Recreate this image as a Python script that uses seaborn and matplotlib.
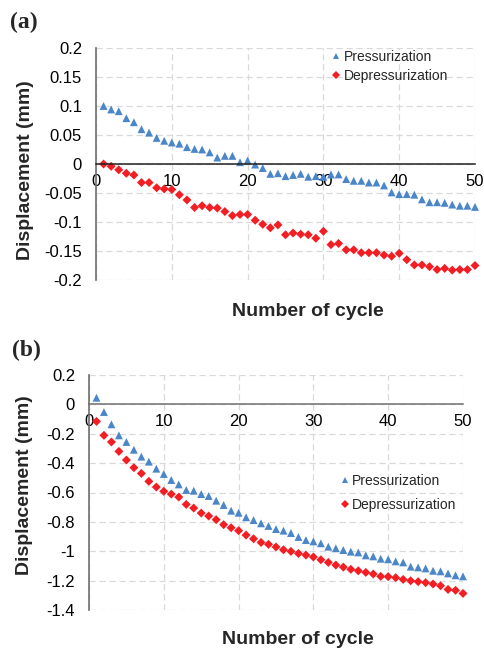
import numpy as np
import pandas as pd
import matplotlib
matplotlib.use("Agg")
import matplotlib.pyplot as plt
import seaborn as sns
from matplotlib.ticker import FixedLocator, FuncFormatter

cycles = list(range(1, 51))

press_a = [0.100, 0.094, 0.091, 0.079, 0.072, 0.060, 0.054, 0.045, 0.040, 0.037,
           0.035, 0.029, 0.026, 0.025, 0.020, 0.011, 0.014, 0.014, 0.003, 0.006,
           -0.001, -0.007, -0.017, -0.016, -0.021, -0.019, -0.017, -0.022, -0.021, -0.022,
           -0.018, -0.018, -0.026, -0.029, -0.029, -0.032, -0.032, -0.037, -0.049, -0.052,
           -0.052, -0.053, -0.061, -0.066, -0.066, -0.067, -0.070, -0.072, -0.072, -0.074]
depress_a = [0.000, -0.004, -0.010, -0.016, -0.019, -0.032, -0.032, -0.041, -0.043, -0.044,
             -0.053, -0.062, -0.075, -0.072, -0.075, -0.076, -0.082, -0.089, -0.087, -0.087,
             -0.097, -0.104, -0.110, -0.105, -0.122, -0.119, -0.121, -0.122, -0.128, -0.116,
             -0.139, -0.137, -0.148, -0.148, -0.153, -0.153, -0.153, -0.157, -0.159, -0.154,
             -0.165, -0.174, -0.174, -0.177, -0.182, -0.180, -0.183, -0.182, -0.182, -0.175]

press_b = [0.045, -0.052, -0.136, -0.211, -0.256, -0.309, -0.356, -0.390, -0.438, -0.474,
           -0.515, -0.545, -0.583, -0.588, -0.611, -0.624, -0.656, -0.685, -0.724, -0.738,
           -0.769, -0.788, -0.810, -0.828, -0.849, -0.860, -0.876, -0.903, -0.924, -0.933,
           -0.946, -0.969, -0.980, -0.992, -1.003, -1.008, -1.028, -1.035, -1.051, -1.055,
           -1.069, -1.076, -1.105, -1.110, -1.117, -1.133, -1.137, -1.151, -1.164, -1.171]
depress_b = [-0.116, -0.211, -0.256, -0.320, -0.379, -0.431, -0.470, -0.524, -0.563, -0.592,
             -0.611, -0.631, -0.681, -0.706, -0.740, -0.760, -0.785, -0.819, -0.840, -0.860,
             -0.890, -0.915, -0.940, -0.953, -0.971, -0.990, -1.001, -1.015, -1.026, -1.039,
             -1.058, -1.076, -1.094, -1.108, -1.123, -1.133, -1.144, -1.155, -1.171, -1.173,
             -1.180, -1.192, -1.201, -1.207, -1.214, -1.223, -1.235, -1.260, -1.266, -1.287]

series_names = ["Pressurization", "Depressurization"]
x_ticks = [0, 10, 20, 30, 40, 50]
y_ticks_a = [0.2, 0.15, 0.1, 0.05, 0, -0.05, -0.1, -0.15, -0.2]
y_ticks_b = [0.2, 0, -0.2, -0.4, -0.6, -0.8, -1, -1.2, -1.4]

sns.set_style("white")
plt.rcParams['font.family'] = ['Liberation Sans', 'DejaVu Sans']
plt.rcParams['axes.unicode_minus'] = False

W, H = 484, 648
fig = plt.figure(figsize=(W / 100, H / 100), dpi=100)

BLUE = "#4A86C8"
RED = "#F21E24"
palette = {series_names[0]: BLUE, series_names[1]: RED}
markers = {series_names[0]: "^", series_names[1]: "D"}
sizes = {series_names[0]: 32, series_names[1]: 21}


def make_df(p, d):
    return pd.DataFrame({
        "cycle": cycles * 2,
        "disp": list(p) + list(d),
        "series": [series_names[0]] * len(p) + [series_names[1]] * len(d),
    })


def px_axes(left, top, right, bottom):
    return fig.add_axes([left / W, 1 - bottom / H, (right - left) / W, (bottom - top) / H])


def style_axes(ax, yticks, ylim, zero_color):
    ax.set_xlim(0, 50)
    ax.set_ylim(*ylim)
    ax.xaxis.set_major_locator(FixedLocator(x_ticks))
    ax.yaxis.set_major_locator(FixedLocator(yticks))
    ax.yaxis.set_major_formatter(FuncFormatter(lambda v, p: f"{v:g}" if abs(v) > 1e-9 else "0"))
    ax.xaxis.set_major_formatter(FuncFormatter(lambda v, p: f"{v:g}"))
    ax.grid(True, color="#D9D9D9", linestyle=(0, (5, 3)), linewidth=0.9)
    ax.set_axisbelow(True)
    for s in ["top", "right"]:
        ax.spines[s].set_visible(False)
    ax.spines["left"].set_color("#6E6E6E")
    ax.spines["left"].set_linewidth(1.2)
    ax.spines["bottom"].set_position(("data", 0))
    ax.spines["bottom"].set_color(zero_color)
    ax.spines["bottom"].set_linewidth(1.1)
    ax.tick_params(axis="both", length=0, labelsize=12, colors="black")
    ax.tick_params(axis="x", pad=7)
    ax.tick_params(axis="y", pad=10)
    ax.set_xlabel("")
    ax.set_ylabel("")


def draw_panel(ax, df, legend_anchor, legend_spacing):
    sns.scatterplot(data=df, x="cycle", y="disp", hue="series", style="series",
                    size="series", sizes=sizes,
                    palette=palette, markers=markers, linewidth=0,
                    ax=ax, legend=True, clip_on=False)
    handles, labels = ax.get_legend_handles_labels()
    ax.legend(handles=handles, labels=labels, loc="upper left", bbox_to_anchor=legend_anchor,
              frameon=False, fontsize=10, handletextpad=0.05, borderaxespad=0, borderpad=0,
              labelspacing=legend_spacing, markerscale=0.85, handlelength=1.0)


# Panel (a)
ax_a = px_axes(96, 48, 475, 280)
draw_panel(ax_a, make_df(press_a, depress_a), (0.615, 0.99), 0.35)
style_axes(ax_a, y_ticks_a, (-0.2, 0.2), "#202020")

# Panel (b)
ax_b = px_axes(89, 375, 463, 610)
draw_panel(ax_b, make_df(press_b, depress_b), (0.665, 0.58), 0.75)
style_axes(ax_b, y_ticks_b, (-1.4, 0.2), "#707070")

# Texts
fig.text(10 / W, 1 - 22 / H, "(a)", family=["Liberation Serif"], fontweight="bold",
         fontsize=17, va="center", ha="left")
fig.text(12 / W, 1 - 350 / H, "(b)", family=["Liberation Serif"], fontweight="bold",
         fontsize=17, va="center", ha="left")
fig.text(26 / W, 1 - 170 / H, "Displacement (mm)", rotation=90, fontweight="bold",
         fontsize=14, va="center", ha="center")
fig.text(25 / W, 1 - 485 / H, "Displacement (mm)", rotation=90, fontweight="bold",
         fontsize=14, va="center", ha="center")
fig.text(308 / W, 1 - 311 / H, "Number of cycle", fontweight="bold",
         fontsize=14, va="center", ha="center")
fig.text(298 / W, 1 - 640 / H, "Number of cycle", fontweight="bold",
         fontsize=14, va="center", ha="center")

fig.savefig("out.png", dpi=100)
